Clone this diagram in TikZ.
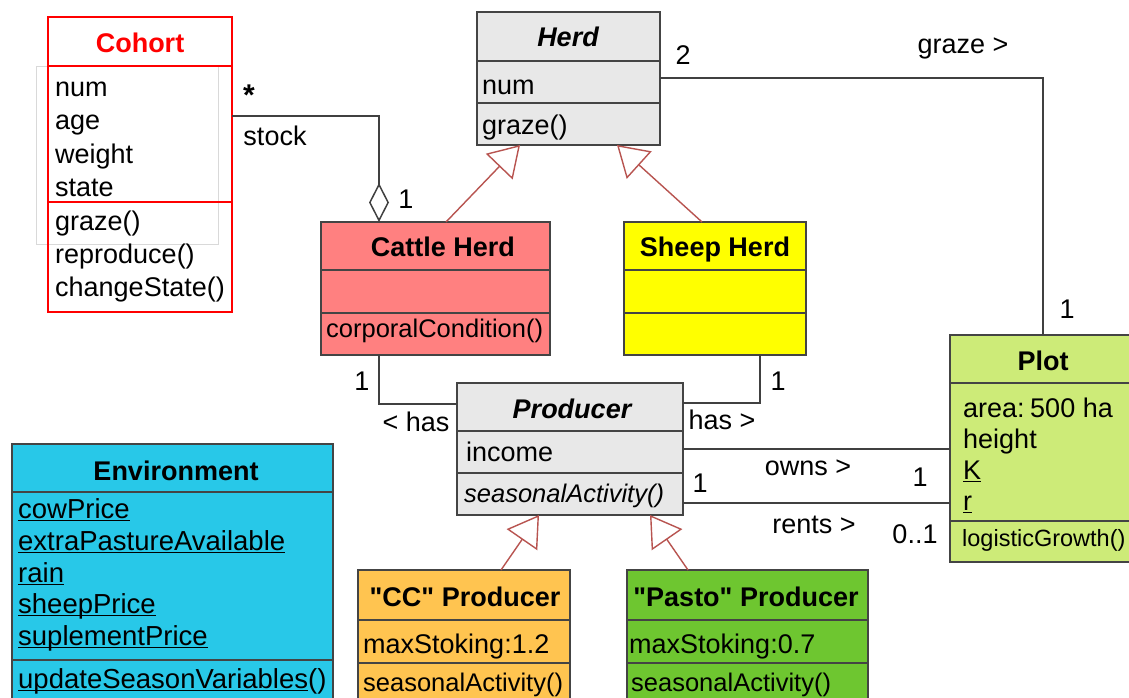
\documentclass[tikz,border=0pt]{standalone}
\usepackage{fontspec}
\setmainfont{Liberation Sans}
\newfontfamily\qfont{Liberation Sans}[Ligatures=TeXOff]
\usetikzlibrary{arrows.meta}
\definecolor{boxline}{HTML}{444444}
\definecolor{connline}{HTML}{404040}
\definecolor{genline}{HTML}{B85450}
\definecolor{herdgray}{HTML}{E8E8E8}
\definecolor{cattlecol}{HTML}{FF8080}
\definecolor{sheepcol}{HTML}{FFFF00}
\definecolor{plotcol}{HTML}{CDEB78}
\definecolor{cccol}{HTML}{FFC450}
\definecolor{pastocol}{HTML}{6EC630}
\definecolor{envcol}{HTML}{28C8E8}
\definecolor{cohortred}{HTML}{FF0000}
\newcommand{\myul}[1]{\setbox0\hbox{#1}\rlap{\rule[-3pt]{\wd0}{1.3pt}}\box0}
\newcommand{\dq}{{\qfont\bfseries\char"22}}
\begin{document}
\begin{tikzpicture}[x=1pt,y=-1pt,
 classbox/.style={draw=boxline, line width=1.6pt, inner sep=0pt, outer sep=0pt, anchor=north west},
 sepline/.style={draw=boxline, line width=1.6pt},
 conn/.style={draw=connline, line width=1.5pt},
 gen/.style={draw=genline, line width=1.4pt, -{Triangle[open, length=30pt, width=37pt]}},
 txt/.style={inner sep=0pt, anchor=base west, font=\fontsize{27}{32}\selectfont},
 meth/.style={inner sep=0pt, anchor=base west, font=\fontsize{25.5}{30}\selectfont},
 ttl/.style={inner sep=0pt, anchor=base, font=\fontsize{27}{32}\selectfont\bfseries},
 lbl/.style={inner sep=0pt, anchor=base, font=\fontsize{27}{32}\selectfont}]
\useasboundingbox (0,0) rectangle (1129,698);
\fill[white] (0,0) rectangle (1129,698);

% ghost rectangle behind Cohort
\draw[black!15, line width=0.8pt] (36,66) rectangle (218,244);

% ---------- class boxes ----------
\node[classbox, draw=cohortred, minimum width=184pt, minimum height=295pt] (cohort) at (48,17) {};
\node[classbox, fill=herdgray, minimum width=183pt, minimum height=133pt] (herd) at (477,12) {};
\node[classbox, fill=cattlecol, minimum width=229pt, minimum height=133pt] (cattle) at (321,222) {};
\node[classbox, fill=sheepcol, minimum width=182pt, minimum height=133pt] (sheep) at (624,222) {};
\node[classbox, fill=herdgray, minimum width=226pt, minimum height=132pt] (producer) at (457,383) {};
\node[classbox, fill=plotcol, minimum width=186pt, minimum height=227pt] (plot) at (950,335) {};
\node[classbox, fill=envcol, minimum width=321pt, minimum height=280pt] (env) at (12,444) {};
\node[classbox, fill=cccol, minimum width=212pt, minimum height=150pt] (cc) at (358,570) {};
\node[classbox, fill=pastocol, minimum width=241pt, minimum height=150pt] (pasto) at (627,570) {};

% ---------- compartment separators ----------
\draw[sepline, draw=cohortred] (cohort.west |- 0,66) -- (cohort.east |- 0,66);
\draw[sepline, draw=cohortred] (cohort.west |- 0,202) -- (cohort.east |- 0,202);
\draw[sepline] (herd.west |- 0,61) -- (herd.east |- 0,61);
\draw[sepline] (herd.west |- 0,103) -- (herd.east |- 0,103);
\draw[sepline] (cattle.west |- 0,270) -- (cattle.east |- 0,270);
\draw[sepline] (cattle.west |- 0,313) -- (cattle.east |- 0,313);
\draw[sepline] (sheep.west |- 0,270) -- (sheep.east |- 0,270);
\draw[sepline] (sheep.west |- 0,313) -- (sheep.east |- 0,313);
\draw[sepline] (producer.west |- 0,431) -- (producer.east |- 0,431);
\draw[sepline] (producer.west |- 0,473) -- (producer.east |- 0,473);
\draw[sepline] (plot.west |- 0,383) -- (plot.east |- 0,383);
\draw[sepline] (plot.west |- 0,521) -- (plot.east |- 0,521);
\draw[sepline] (env.west |- 0,492) -- (env.east |- 0,492);
\draw[sepline] (env.west |- 0,660) -- (env.east |- 0,660);
\draw[sepline] (cc.west |- 0,620) -- (cc.east |- 0,620);
\draw[sepline] (cc.west |- 0,663) -- (cc.east |- 0,663);
\draw[sepline] (pasto.west |- 0,620) -- (pasto.east |- 0,620);
\draw[sepline] (pasto.west |- 0,663) -- (pasto.east |- 0,663);

% ---------- texts ----------
% Cohort
\node[ttl, text=cohortred] (cohortT) at (140,53) {Cohort};
\node[txt] (coA1) at (55,97) {num};
\node[txt] (coA2) at (55,130) {age};
\node[txt] (coA3) at (55,163) {weight};
\node[txt] (coA4) at (55,196) {state};
\node[txt] (coM1) at (55,230) {graze()};
\node[txt] (coM2) at (55,263) {reproduce()};
\node[txt] (coM3) at (55,296) {changeState()};
% Herd
\node[ttl, font=\fontsize{27}{32}\selectfont\bfseries\itshape] (herdT) at (568,47) {Herd};
\node[txt] (heA1) at (482,95) {num};
\node[txt] (heM1) at (482,135) {graze()};
% Cattle / Sheep
\node[ttl] (cattleT) at (443,256) {Cattle Herd};
\node[meth] (caM1) at (326,337) {corporalCondition()};
\node[ttl] (sheepT) at (715,256) {Sheep Herd};
% Producer
\node[ttl, font=\fontsize{27}{32}\selectfont\bfseries\itshape] (prodT) at (572,418) {Producer};
\node[txt] (prA1) at (466,461) {income};
\node[meth, font=\fontsize{25.5}{30}\selectfont\itshape] (prM1) at (464,502) {seasonalActivity()};
% Plot
\node[ttl] (plotT) at (1043,370) {Plot};
\node[txt] (plA1) at (963,417) {area:\kern5.5pt 500 ha};
\node[txt] (plA2) at (963,448) {height};
\node[txt] (plA3) at (963,479) {\myul{K}};
\node[txt] (plA4) at (963,510) {\myul{r}};
\node[txt, font=\fontsize{23.5}{28}\selectfont] (plM1) at (962,546) {logisticGrowth()};
% Environment
\node[ttl] (envT) at (176,480) {Environment};
\node[txt, font=\fontsize{27.5}{32}\selectfont] (enA1) at (18,518) {\myul{cowPrice}};
\node[txt, font=\fontsize{27.5}{32}\selectfont] (enA2) at (18,550) {\myul{extraPastureAvailable}};
\node[txt, font=\fontsize{27.5}{32}\selectfont] (enA3) at (18,582) {\myul{rain}};
\node[txt, font=\fontsize{27.5}{32}\selectfont] (enA4) at (18,613) {\myul{sheepPrice}};
\node[txt, font=\fontsize{27.5}{32}\selectfont] (enA5) at (18,645) {\myul{suplementPrice}};
\node[txt, font=\fontsize{27.5}{32}\selectfont] (enM1) at (18,688) {\myul{updateSeasonVariables}()};
% CC / Pasto
\node[ttl] (ccT) at (465,606) {\dq CC\dq{} Producer};
\node[txt] (ccA1) at (363,653) {maxStoking:1.2};
\node[meth] (ccM1) at (363,691) {seasonalActivity()};
\node[ttl] (pastoT) at (746,606) {\dq Pasto\dq{} Producer};
\node[txt] (paA1) at (629,653) {maxStoking:0.7};
\node[meth] (paM1) at (631,691) {seasonalActivity()};

% ---------- connectors ----------
\draw[conn, -{Diamond[open, length=39pt, width=20pt]}] (cohort.east |- 0,116) -| (cattle.north -| 379,0);
\draw[conn] (cattle.south -| 379,0) |- (producer.west |- 0,404);
\draw[conn] (sheep.south -| 760,0) |- (producer.east |- 0,403);
\draw[conn] (producer.east |- 0,449) -- (plot.west |- 0,449);
\draw[conn] (producer.east |- 0,503) -- (plot.west |- 0,503);
\draw[conn] (herd.east |- 0,78) -| (plot.north);
\draw[gen] (cattle.north -| 446,0) -- (herd.south -| 520,0);
\draw[gen] (sheep.north -| 702,0) -- (herd.south -| 617,0);
\draw[gen] (cc.north -| 501,0) -- (producer.south -| 539,0);
\draw[gen] (pasto.north -| 688,0) -- (producer.south -| 650,0);

% ---------- connector labels ----------
\node[lbl, font=\fontsize{30}{32}\selectfont\bfseries] (l1) at (249,106) {*};
\node[lbl] (l2) at (275,146) {stock};
\node[lbl] (l3) at (406,208) {1};
\node[lbl] (l4) at (683,65) {2};
\node[lbl] (l5) at (963,54) {graze >};
\node[lbl] (l6) at (1067,318) {1};
\node[lbl] (l7) at (362,390) {1};
\node[lbl] (l8) at (416,431) {< has};
\node[lbl] (l9) at (778,390) {1};
\node[lbl] (l10) at (722,429) {has >};
\node[lbl] (l11) at (808,475) {owns >};
\node[lbl] (l12) at (920,486) {1};
\node[lbl] (l13) at (700,492) {1};
\node[lbl] (l14) at (814,533) {rents >};
\node[lbl] (l15) at (915,543) {0..1};
\end{tikzpicture}
\end{document}
